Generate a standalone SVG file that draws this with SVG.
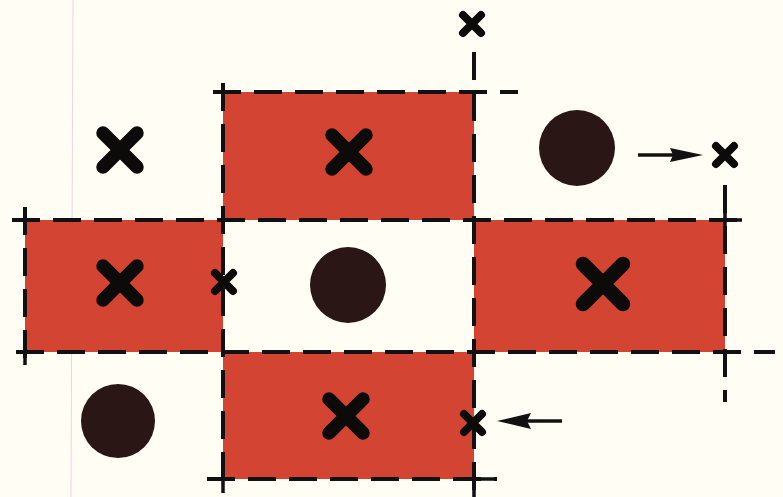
<svg xmlns="http://www.w3.org/2000/svg" width="783" height="497" viewBox="0 0 783 497">
<defs>
<style>
.bg{fill:#fffdf4}
.red{fill:#d34433}
.dash{stroke:#111;stroke-width:4;stroke-dasharray:28 13;fill:none}
.tick{stroke:#111;stroke-width:3.5;fill:none}
.xbig{stroke:#0d0a0a;stroke-width:13.5;stroke-linecap:round;fill:none}
.xsm{stroke:#0d0a0a;stroke-width:8;stroke-linecap:round;fill:none}
.dot{fill:#2a1614}
.arr{stroke:#111;stroke-width:3.5;fill:none}
.head{fill:#111}
</style>
</defs>
<rect class="bg" x="0" y="0" width="783" height="497"/>
<line x1="73" y1="0" x2="71" y2="497" stroke="#e2b8d8" stroke-width="1" opacity="0.6"/>
<g id="rect-top"><rect class="red" x="223" y="92" width="251" height="128"/></g>
<g id="rect-left"><rect class="red" x="25" y="220" width="198" height="132"/></g>
<g id="rect-right"><rect class="red" x="474" y="220" width="251" height="132"/></g>
<g id="rect-bottom"><rect class="red" x="223" y="352" width="251" height="127"/></g>
<g id="grid-lines">
<line class="dash" x1="213" y1="92" x2="518" y2="92"/>
<line class="dash" x1="12" y1="220" x2="742" y2="220"/>
<line class="dash" x1="16" y1="352" x2="775" y2="352"/>
<line class="dash" x1="207" y1="479" x2="497" y2="479"/>
<line class="dash" x1="25" y1="207" x2="25" y2="365"/>
<line class="dash" x1="223" y1="83" x2="223" y2="493"/>
<line class="dash" x1="474" y1="52" x2="474" y2="497"/>
<line class="dash" x1="725" y1="185" x2="725" y2="402"/>
<path class="tick" d="M213 92H233M223 83V102M12 220H35M25 207V230M16 352H35M25 342V365M207 479H233M223 469V493M464 479H497M474 469V497M715 220H742M725 185V230"/>
</g>
<g id="x-topleft"><path class="xbig" d="M103 133L137 167M137 133L103 167"/></g>
<g id="x-top"><path class="xbig" d="M332 135L366 169M366 135L332 169"/></g>
<g id="x-left"><path class="xbig" d="M103 266L137 300M137 266L103 300"/></g>
<g id="x-right"><path class="xbig" d="M583 264L623 304M623 264L583 304" style="stroke-width:14.5"/></g>
<g id="x-bottom"><path class="xbig" d="M329 399L363 433M363 399L329 433"/></g>
<g id="x-small-top"><path class="xsm" d="M463 15L481 33M481 15L463 33"/></g>
<g id="x-small-left"><path class="xsm" d="M215 273L233 291M233 273L215 291"/></g>
<g id="x-small-right"><path class="xsm" d="M716 146L734 164M734 146L716 164"/></g>
<g id="x-small-bottom"><path class="xsm" d="M464 414L482 432M482 414L464 432"/></g>
<g id="dot-topright"><circle class="dot" cx="577" cy="148" r="38"/></g>
<g id="dot-center"><circle class="dot" cx="348" cy="285" r="38"/></g>
<g id="dot-bottomleft"><circle class="dot" cx="118" cy="421" r="37"/></g>
<g id="arrows">
<line class="arr" x1="638" y1="155" x2="675" y2="155"/>
<path class="head" d="M703 155L670 148L673 155L670 162Z"/>
<line class="arr" x1="562" y1="421" x2="525" y2="421"/>
<path class="head" d="M497 421L531 413L527 421L531 429Z"/>
</g>
</svg>
